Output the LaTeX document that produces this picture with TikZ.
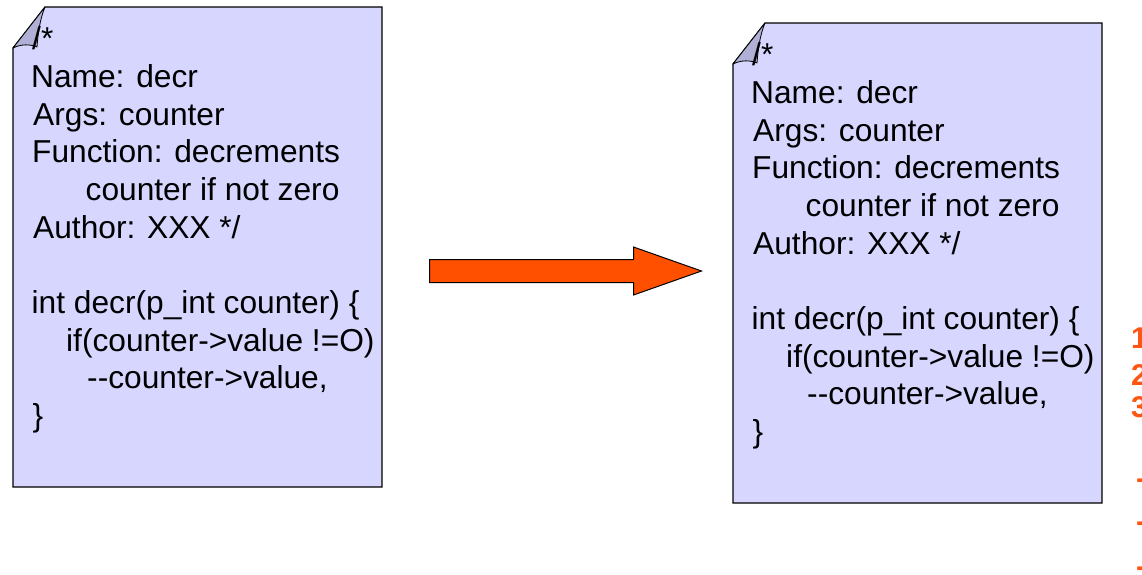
\documentclass[tikz,border=0pt]{standalone}
\usepackage{fontspec}
\setmainfont{Liberation Sans}
\newfontfamily\arialf{Liberation Sans}
\definecolor{pagec}{RGB}{214,214,255}
\definecolor{flapc}{RGB}{176,176,214}
\definecolor{arrowc}{RGB}{255,80,0}
\definecolor{numc}{RGB}{255,85,20}
\tikzset{
  pagebox/.style={fill=pagec,draw=black,line width=1.2pt,line join=miter},
  flapbox/.style={fill=flapc,draw=black,line width=0.8pt,line join=round},
  codeline/.style={font=\arialf\fontsize{31.7}{37.7}\selectfont,anchor=base west,inner sep=0pt},
  bigarrow/.style={fill=arrowc,draw=black,line width=1pt,line join=miter},
  numline/.style={font=\arialf\bfseries\fontsize{30}{36}\selectfont,text=numc,anchor=base west,inner sep=0pt}
}
\newcommand\codepage[1]{%
  \draw[pagebox] (45,7) -- (382,7) -- (382,487) -- (13,487) -- (13,48) -- cycle;
  \draw[flapbox] (45,7) -- (13,48) .. controls (21,44) and (30,44) .. (37,47)
        .. controls (38,33) and (40,19) .. (45,7) -- cycle;
  \node[codeline] (#1l0) at (32,49.6) {/*};
  \node[codeline] (#1l1) at (31,87.3) {Name: decr};
  \node[codeline] (#1l2) at (33,125) {Args: counter};
  \node[codeline] (#1l3) at (32,162.7) {Function: decrements};
  \node[codeline] (#1l4) at (85.5,200.4) {counter if not zero};
  \node[codeline] (#1l5) at (33,238.1) {Author: XXX */};
  \node[codeline] (#1l6) at (31.5,313.5) {int decr(p\_int counter) \{};
  \node[codeline] (#1l7) at (66,351.2) {if(counter->value !=O)};
  \node[codeline] (#1l8) at (87,388.9) {-\kern0pt-counter->value,};
  \node[codeline] (#1l9) at (32.5,426.6) {\}};
}
\begin{document}
\begin{tikzpicture}[x=1pt,y=-1pt]
\useasboundingbox (0,0) rectangle (1142,574);
\begin{scope}
  \codepage{a}
\end{scope}
\begin{scope}[shift={(720,16)}]
  \codepage{b}
\end{scope}
\draw[bigarrow] (429.5,259.5) -- (633.5,259.5) -- (633.5,247) -- (701.5,271)
   -- (633.5,295) -- (633.5,282.7) -- (429.5,282.7) -- cycle;
\node[numline] (n1) at (1131,348) {1};
\node[numline] (n2) at (1131,385) {2};
\node[numline] (n3) at (1131,417) {3};
\node[numline] (d1) at (1136,488) {-};
\node[numline] (d2) at (1136,531) {-};
\node[numline] (d3) at (1136,576) {-};
\end{tikzpicture}
\end{document}
